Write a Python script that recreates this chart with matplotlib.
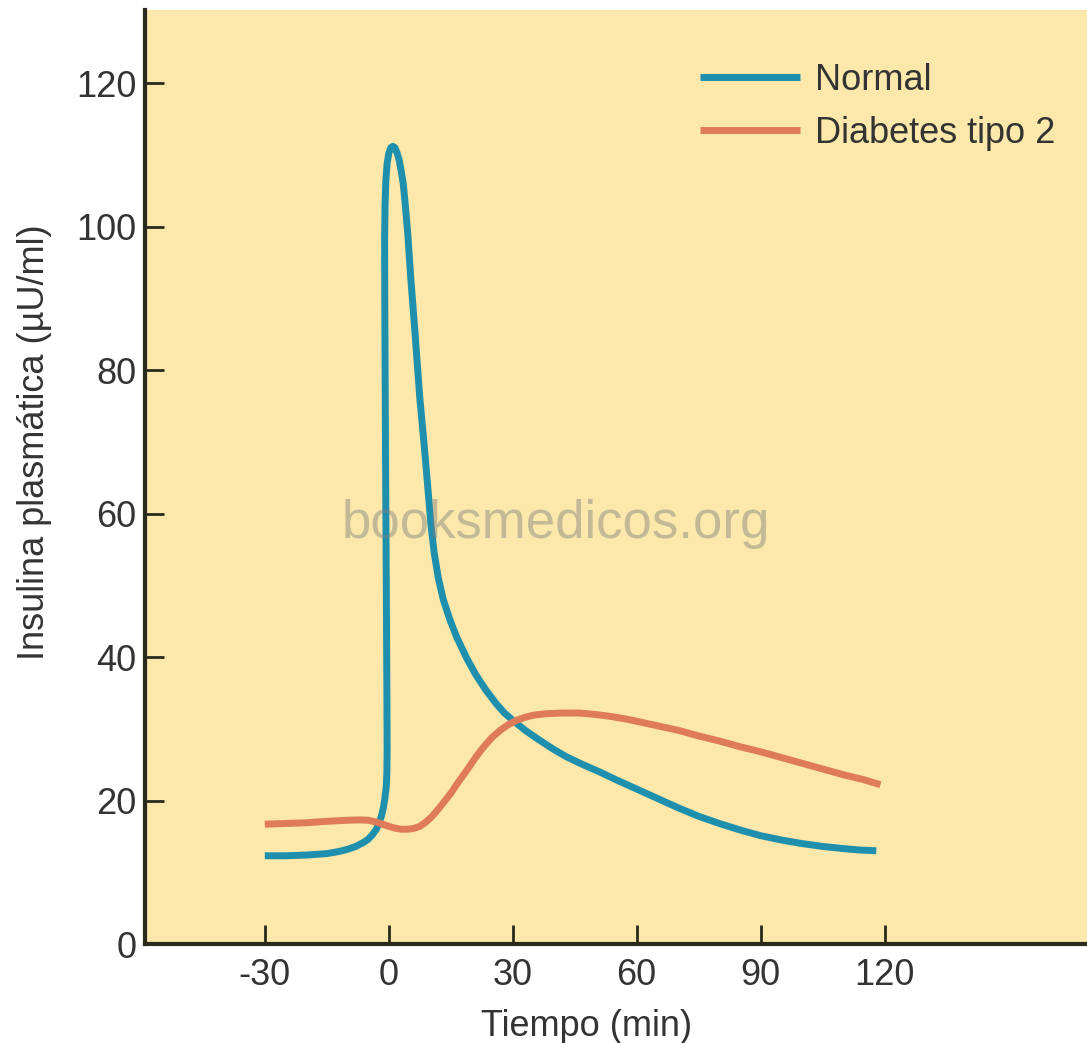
import matplotlib
matplotlib.use('Agg')
from matplotlib import pyplot as plt

plt.rcParams['font.family'] = ['Liberation Sans', 'DejaVu Sans']
plt.rcParams['axes.unicode_minus'] = False

# curve values (time in min, insulin in uU/ml)
normal_t = [-30, -25, -20, -15, -12, -10, -8, -6, -5, -4, -3, -2.3, -1.8, -1.3, -0.9, -0.6,
            -0.45, -0.4, -0.45, -0.6, -0.8, -0.95, -1.0, -0.9, -0.7, -0.4, 0.0, 0.5, 1.0, 1.5,
            2.0, 2.5, 3.0, 3.5, 4.0, 4.6, 5.3, 6.3, 7.5, 8.5, 9.4, 10.2, 11.0, 12.0, 13.2, 14.8,
            16.5, 18.9, 21, 23.5, 26, 28, 30, 33, 36, 40, 43, 47, 51, 55, 60, 65, 70, 75, 80,
            85, 90, 95, 100, 105, 110, 114, 118]
normal_y = [12.3, 12.3, 12.4, 12.6, 12.9, 13.2, 13.6, 14.2, 14.6, 15.2, 16.0, 17.0, 17.8, 19.0,
            20.5, 22, 24, 27, 35, 50, 70, 88, 98, 103, 106.5, 108.8, 110.2, 111.0, 111.2, 111.0,
            110.3, 109.3, 107.8, 106, 103, 99, 93, 85.6, 76.2, 70, 64, 58.5, 54.5, 51, 48, 45.2,
            42.7, 39.8, 37.6, 35.4, 33.5, 32.2, 31.2, 29.8, 28.6, 27.1, 26.1, 25.0, 24.0, 22.9,
            21.6, 20.3, 19.0, 17.8, 16.8, 15.9, 15.1, 14.5, 14.0, 13.6, 13.3, 13.1, 13.0]

diab_t = [-30, -25, -20, -15, -10, -7, -5, -3, -1.5, 0, 1.5, 3, 4.5, 6, 7.5, 9, 10.5, 12, 13.5,
          15, 17, 19, 21, 23, 25, 27, 29, 31, 33, 35, 38, 42, 46, 50, 54, 58, 62, 66, 70, 75,
          80, 85, 90, 95, 100, 105, 110, 115, 119]
diab_y = [16.7, 16.8, 16.9, 17.1, 17.25, 17.3, 17.25, 17.0, 16.7, 16.4, 16.15, 16.0, 16.0, 16.1,
          16.4, 17.0, 17.8, 18.8, 19.9, 21.0, 22.7, 24.3, 26.0, 27.5, 28.8, 29.8, 30.6, 31.2,
          31.6, 31.9, 32.1, 32.2, 32.2, 32.0, 31.7, 31.3, 30.8, 30.3, 29.8, 29.0, 28.3, 27.5,
          26.8, 26.0, 25.2, 24.4, 23.6, 22.9, 22.2]

xticks = [-30, 0, 30, 60, 90, 120]
yticks = [0, 20, 40, 60, 80, 100, 120]

blue = '#1f8fae'
orange = '#e07b5a'
txt = '#333333'

fig = plt.figure(figsize=(10.87, 10.43), dpi=100)
ax = fig.add_axes([145 / 1087, 1 - 944 / 1043, (1087 - 145) / 1087, (944 - 10) / 1043])
ax.set_facecolor('#fbe8aa')

ax.plot(normal_t, normal_y, color=blue, lw=5, solid_joinstyle='round', solid_capstyle='butt',
        label='Normal')
ax.plot(diab_t, diab_y, color=orange, lw=5, solid_joinstyle='round', solid_capstyle='butt',
        label='Diabetes tipo 2')

ax.set_xlim(-59, 169)
ax.set_ylim(0, 130.2)
ax.set_xticks(xticks)
ax.set_yticks(yticks)
ax.tick_params(direction='in', length=14, width=2, color='#2b2a1f', labelsize=26,
               labelcolor=txt)
ax.tick_params(axis='x', pad=10)
ax.tick_params(axis='y', pad=6)
for s in ['top', 'right']:
    ax.spines[s].set_visible(False)
for s in ['left', 'bottom']:
    ax.spines[s].set_linewidth(3)
    ax.spines[s].set_color('#2b2a1f')

ax.set_xlabel('Tiempo (min)', fontsize=26, color=txt)
ax.set_ylabel('Insulina plasmática (µU/ml)', fontsize=26, color=txt)
ax.xaxis.set_label_coords(0.469, -0.07)
ax.yaxis.set_label_coords(-0.099, 0.537)

leg = ax.legend(loc='upper left', bbox_to_anchor=(0.589, 0.9434), frameon=False, fontsize=26,
                handlelength=2.77, handletextpad=0.42, labelspacing=0.49, borderpad=0,
                borderaxespad=0)
for t in leg.get_texts():
    t.set_color(txt)

ax.text(0.436, 0.45, 'booksmedicos.org', transform=ax.transAxes, fontsize=38,
        color='#808080', alpha=0.45, ha='center', va='center', zorder=5)

plt.savefig('out.png', dpi=100)
